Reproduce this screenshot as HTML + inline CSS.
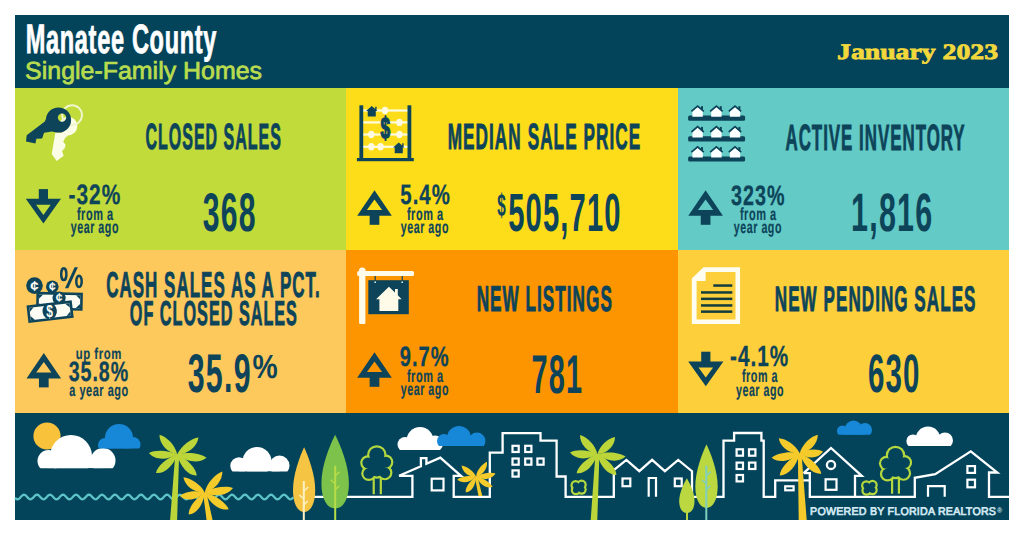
<!DOCTYPE html>
<html><head><meta charset="utf-8"><title>Manatee County Single-Family Homes January 2023</title>
<style>
html,body{margin:0;padding:0;background:#ffffff;}
body{width:1024px;height:536px;position:relative;overflow:hidden;font-family:"Liberation Sans",sans-serif;}
.t{position:absolute;left:0;top:0;white-space:pre;transform-origin:0 0;font-size:100px;line-height:100px;text-rendering:geometricPrecision;}
.bg{position:absolute;}
svg{position:absolute;left:0;top:0;}
</style></head><body>
<div class="bg" style="left:15px;top:15px;width:994px;height:505px;background:#03445b"></div>
<div class="bg" style="left:15px;top:88px;width:331px;height:162px;background:#c0db3a"></div>
<div class="bg" style="left:346px;top:88px;width:332px;height:162px;background:#fddd1a"></div>
<div class="bg" style="left:678px;top:88px;width:331px;height:162px;background:#63cac5"></div>
<div class="bg" style="left:15px;top:250px;width:331px;height:163px;background:#fdc95c"></div>
<div class="bg" style="left:346px;top:250px;width:332px;height:163px;background:#fd9500"></div>
<div class="bg" style="left:678px;top:250px;width:331px;height:163px;background:#fccf3b"></div>
<svg width="1024" height="536" viewBox="0 0 1024 536">
<path fill="#0d445a" fill-rule="evenodd" d="M43.4,223.6 L61.0,198.79999999999998 L25.799999999999997,198.79999999999998 Z M43.4,215.0 L50.699999999999996,204.79999999999998 L36.1,204.79999999999998 Z"/>
<rect fill="#0d445a" x="38.8" y="189.1" width="9.2" height="10.5"/>
<path fill="#0d445a" fill-rule="evenodd" d="M374.5,190.3 L391.8,215.8 L357.2,215.8 Z M374.5,199.5 L382.1,209.9 L366.9,209.9 Z"/>
<rect fill="#0d445a" x="369.65" y="214.3" width="9.7" height="10.5"/>
<path fill="#0d445a" fill-rule="evenodd" d="M705.6,190.3 L722.9,215.8 L688.3000000000001,215.8 Z M705.6,199.5 L713.2,209.9 L698.0,209.9 Z"/>
<rect fill="#0d445a" x="700.75" y="214.3" width="9.7" height="10.5"/>
<path fill="#0d445a" fill-rule="evenodd" d="M43.8,352.9 L61.099999999999994,378.4 L26.499999999999996,378.4 Z M43.8,362.09999999999997 L51.4,372.5 L36.199999999999996,372.5 Z"/>
<rect fill="#0d445a" x="38.949999999999996" y="376.9" width="9.7" height="10.5"/>
<path fill="#0d445a" fill-rule="evenodd" d="M374.5,352.3 L391.8,377.8 L357.2,377.8 Z M374.5,361.5 L382.1,371.90000000000003 L366.9,371.90000000000003 Z"/>
<rect fill="#0d445a" x="369.65" y="376.3" width="9.7" height="10.5"/>
<path fill="#0d445a" fill-rule="evenodd" d="M705.8,386.2 L723.4,361.4 L688.1999999999999,361.4 Z M705.8,377.59999999999997 L713.0999999999999,367.4 L698.5,367.4 Z"/>
<rect fill="#0d445a" x="701.1999999999999" y="351.7" width="9.2" height="10.5"/>
<circle fill="#fbfde6" cx="68.2" cy="126" r="9.2"/>
<path fill="#fbfde6" d="M55.4,132.5 L70.8,133.6 L65.3,137.7 L63.2,141.8 L65.7,145.1 L64.5,148.4 L62,150.9 L63.7,155.8 L56.7,161.1 L51.7,154.1 Z"/>
<circle cx="72.1" cy="115.1" r="9.9" fill="none" stroke="#f0f5cc" stroke-width="2"/>
<path fill="#0d445a" fill-rule="evenodd" d="M71.1,120 A12.6,12.6 0 1 0 45.9,120 A12.6,12.6 0 1 0 71.1,120 Z M66.2,117.6 A4.2,4.2 0 1 1 57.8,117.6 A4.2,4.2 0 1 1 66.2,117.6 Z"/>
<path fill="#0d445a" d="M47.5,115.5 L44.8,121.4 L26.7,135.2 L26,141.5 L35.4,143.5 L36.4,138.8 L42.1,138.5 L44.1,132.8 L52,131.5 L58,132 Z"/>
<rect fill="#fffbe0" x="362" y="109.4" width="47" height="2.2"/>
<rect fill="#fffbe0" x="362" y="121.30000000000001" width="47" height="2.2"/>
<rect fill="#fffbe0" x="362" y="133.4" width="47" height="2.2"/>
<rect fill="#fffbe0" x="362" y="145.70000000000002" width="47" height="2.2"/>
<rect fill="#0d445a" x="359.4" y="105.3" width="3.8" height="54"/>
<rect fill="#0d445a" x="407.5" y="105.3" width="3.8" height="54"/>
<rect fill="#0d445a" x="356.9" y="158" width="56.9" height="3.2"/>
<ellipse fill="#fffbe0" cx="385" cy="110.5" rx="3.2" ry="3.7"/>
<ellipse fill="#fffbe0" cx="399.4" cy="122.4" rx="3.2" ry="3.7"/>
<ellipse fill="#fffbe0" cx="371.3" cy="134.5" rx="3.2" ry="3.7"/>
<ellipse fill="#fffbe0" cx="399.4" cy="134.5" rx="3.2" ry="3.7"/>
<ellipse fill="#fffbe0" cx="371.3" cy="146.8" rx="3.2" ry="3.7"/>
<ellipse fill="#fffbe0" cx="380.6" cy="146.8" rx="3.2" ry="3.7"/>
<path fill="#0d445a" d="M366,111.04 L371.75,106 L375.2,108.94 L375.2,106.84 L376.58,106.84 L376.58,110.2 L377.5,111.04 L375.775,111.04 L375.775,116.5 L367.725,116.5 L367.725,111.04 Z"/>
<path fill="#0d445a" d="M393,147.584 L398.75,142.4 L402.2,145.424 L402.2,143.264 L403.58,143.264 L403.58,146.72 L404.5,147.584 L402.775,147.584 L402.775,153.20000000000002 L394.725,153.20000000000002 L394.725,147.584 Z"/>
<text x="380.6" y="137.9" font-family="Liberation Sans" font-weight="bold" font-size="29" fill="#0d445a" stroke="#0d445a" stroke-width="1.3" transform="translate(380.6,0) scale(0.6,1) translate(-380.6,0)">$</text>
<rect fill="#0d445a" x="688.1" y="115.5" width="57" height="5.2" rx="1.5"/>
<path fill="#fbffff" d="M692.4,111.1 L697.6,106.89999999999999 L702.8000000000001,111.1 L702.8000000000001,116.7 L692.4,116.7 Z"/>
<path fill="none" stroke="#0d445a" stroke-width="1.7" d="M691.4,111.3 L697.6,106.0 L703.8000000000001,111.3"/>
<rect fill="#0d445a" x="701.0" y="106.2" width="2" height="3.2"/>
<path fill="#fbffff" d="M711.1999999999999,111.1 L716.4,106.89999999999999 L721.6,111.1 L721.6,116.7 L711.1999999999999,116.7 Z"/>
<path fill="none" stroke="#0d445a" stroke-width="1.7" d="M710.1999999999999,111.3 L716.4,106.0 L722.6,111.3"/>
<rect fill="#0d445a" x="719.8" y="106.2" width="2" height="3.2"/>
<path fill="#fbffff" d="M729.8,111.1 L735.0,106.89999999999999 L740.2,111.1 L740.2,116.7 L729.8,116.7 Z"/>
<path fill="none" stroke="#0d445a" stroke-width="1.7" d="M728.8,111.3 L735.0,106.0 L741.2,111.3"/>
<rect fill="#0d445a" x="738.4" y="106.2" width="2" height="3.2"/>
<rect fill="#0d445a" x="688.1" y="136.2" width="57" height="5.2" rx="1.5"/>
<path fill="#fbffff" d="M692.4,131.79999999999998 L697.6,127.59999999999998 L702.8000000000001,131.79999999999998 L702.8000000000001,137.39999999999998 L692.4,137.39999999999998 Z"/>
<path fill="none" stroke="#0d445a" stroke-width="1.7" d="M691.4,132.0 L697.6,126.69999999999999 L703.8000000000001,132.0"/>
<rect fill="#0d445a" x="701.0" y="126.89999999999999" width="2" height="3.2"/>
<path fill="#fbffff" d="M711.1999999999999,131.79999999999998 L716.4,127.59999999999998 L721.6,131.79999999999998 L721.6,137.39999999999998 L711.1999999999999,137.39999999999998 Z"/>
<path fill="none" stroke="#0d445a" stroke-width="1.7" d="M710.1999999999999,132.0 L716.4,126.69999999999999 L722.6,132.0"/>
<rect fill="#0d445a" x="719.8" y="126.89999999999999" width="2" height="3.2"/>
<path fill="#fbffff" d="M729.8,131.79999999999998 L735.0,127.59999999999998 L740.2,131.79999999999998 L740.2,137.39999999999998 L729.8,137.39999999999998 Z"/>
<path fill="none" stroke="#0d445a" stroke-width="1.7" d="M728.8,132.0 L735.0,126.69999999999999 L741.2,132.0"/>
<rect fill="#0d445a" x="738.4" y="126.89999999999999" width="2" height="3.2"/>
<rect fill="#0d445a" x="688.1" y="156.4" width="57" height="5.2" rx="1.5"/>
<path fill="#fbffff" d="M692.4,152.00000000000003 L697.6,147.8 L702.8000000000001,152.00000000000003 L702.8000000000001,157.6 L692.4,157.6 Z"/>
<path fill="none" stroke="#0d445a" stroke-width="1.7" d="M691.4,152.20000000000002 L697.6,146.9 L703.8000000000001,152.20000000000002"/>
<rect fill="#0d445a" x="701.0" y="147.10000000000002" width="2" height="3.2"/>
<path fill="#fbffff" d="M711.1999999999999,152.00000000000003 L716.4,147.8 L721.6,152.00000000000003 L721.6,157.6 L711.1999999999999,157.6 Z"/>
<path fill="none" stroke="#0d445a" stroke-width="1.7" d="M710.1999999999999,152.20000000000002 L716.4,146.9 L722.6,152.20000000000002"/>
<rect fill="#0d445a" x="719.8" y="147.10000000000002" width="2" height="3.2"/>
<path fill="#fbffff" d="M729.8,152.00000000000003 L735.0,147.8 L740.2,152.00000000000003 L740.2,157.6 L729.8,157.6 Z"/>
<path fill="none" stroke="#0d445a" stroke-width="1.7" d="M728.8,152.20000000000002 L735.0,146.9 L741.2,152.20000000000002"/>
<rect fill="#0d445a" x="738.4" y="147.10000000000002" width="2" height="3.2"/>
<circle fill="#0d445a" cx="34.5" cy="285.6" r="8.3"/>
<text x="34.5" y="291.0" text-anchor="middle" font-family="Liberation Sans" font-weight="bold" font-size="15" fill="#fbfdf5">¢</text>
<circle fill="#0d445a" cx="52.3" cy="286.7" r="6.3"/>
<text x="52.3" y="291.02" text-anchor="middle" font-family="Liberation Sans" font-weight="bold" font-size="12" fill="#fbfdf5">¢</text>
<g transform="translate(59.5,301.3) rotate(1.2)"><rect fill="#0d445a" x="-23.25" y="-9.0" width="46.5" height="18"/><rect fill="#fbfdf5" x="-20.65" y="-6.4" width="41.3" height="12.8"/><path fill="#0d445a" d="M-20.65,-6.4 L-16.45,-6.4 L-20.65,-2.2 Z"/><path fill="#0d445a" d="M-20.65,6.4 L-16.45,6.4 L-20.65,2.2 Z"/><path fill="#0d445a" d="M20.65,-6.4 L16.45,-6.4 L20.65,-2.2 Z"/><path fill="#0d445a" d="M20.65,6.4 L16.45,6.4 L20.65,2.2 Z"/></g>
<circle fill="#0d445a" cx="59.1" cy="298.1" r="6.6"/>
<text x="59.1" y="302.42" text-anchor="middle" font-family="Liberation Sans" font-weight="bold" font-size="12" fill="#fbfdf5">¢</text>
<g transform="translate(50.1,311.7) rotate(-6.6)"><rect fill="#0d445a" x="-22.75" y="-8.8" width="45.5" height="17.6"/><rect fill="#fbfdf5" x="-20.15" y="-6.200000000000001" width="40.3" height="12.400000000000002"/><path fill="#0d445a" d="M-20.15,-6.200000000000001 L-15.95,-6.200000000000001 L-20.15,-2.000000000000001 Z"/><path fill="#0d445a" d="M-20.15,6.200000000000001 L-15.95,6.200000000000001 L-20.15,2.000000000000001 Z"/><path fill="#0d445a" d="M20.15,-6.200000000000001 L15.95,-6.200000000000001 L20.15,-2.000000000000001 Z"/><path fill="#0d445a" d="M20.15,6.200000000000001 L15.95,6.200000000000001 L20.15,2.000000000000001 Z"/></g>
<ellipse fill="#0d445a" cx="49.7" cy="311.2" rx="7.2" ry="8.2" transform="rotate(-6.6 49.7 311.2)"/>
<text x="49.7" y="316.6" text-anchor="middle" font-family="Liberation Sans" font-weight="bold" font-size="16" fill="#fbfdf5" transform="translate(49.7,0) scale(0.75,1) translate(-49.7,0)">$</text>
<ellipse fill="none" stroke="#0d445a" stroke-width="2.5" cx="63.8" cy="274.2" rx="2.6" ry="5.9"/>
<ellipse fill="none" stroke="#0d445a" stroke-width="2.5" cx="79" cy="281.4" rx="2.7" ry="5.7"/>
<path fill="#0d445a" d="M74.6,267.2 L77.9,267.2 L68.3,288.3 L65,288.3 Z"/>
<rect fill="#fffbe8" x="359.1" y="269" width="6.3" height="55" rx="1"/>
<rect fill="#fffbe8" x="357.2" y="271.1" width="56.8" height="5" rx="1.5"/>
<rect fill="#fffbe8" x="359.1" y="267.6" width="6.3" height="5" rx="3"/>
<rect fill="#0d445a" x="368.3" y="280.2" width="40.5" height="34"/>
<rect fill="#0d445a" x="374.59999999999997" y="276" width="1.2" height="5"/>
<circle fill="#cfe8f0" cx="375.2" cy="282.2" r="0.9"/>
<rect fill="#0d445a" x="401.59999999999997" y="276" width="1.2" height="5"/>
<circle fill="#cfe8f0" cx="402.2" cy="282.2" r="0.9"/>
<path fill="#fffbe8" d="M376.1,299.2 L388.9,286.8 L395,292.6 L395,289 L397.8,289 L397.8,295.3 L401.6,299.2 L398.3,299.2 L398.3,311 L379.4,311 L379.4,299.2 Z"/>
<path fill="#fffdf0" fill-rule="evenodd" d="M703.5,267.2 L740.1,267.2 L740.1,324 L691.8,324 L691.8,278.6 Z M705.4,272 L735.5,272 L735.5,319.4 L696.6,319.4 L696.6,281 L705.4,281 Z"/>
<path fill="#fffdf0" d="M696.6,281 L705.4,272 L705.4,281 Z"/>
<rect fill="#123d3f" x="713.3" y="284.3" width="19" height="2.5"/>
<rect fill="#123d3f" x="701" y="291.2" width="31.3" height="2.5"/>
<rect fill="#123d3f" x="701" y="297.6" width="31.3" height="2.5"/>
<rect fill="#123d3f" x="701" y="304.2" width="31.3" height="2.5"/>
<rect fill="#123d3f" x="701" y="310.4" width="31.3" height="2.5"/>
<circle fill="#f8c23b" cx="47" cy="436" r="13.6"/>
<path fill="none" stroke="#5dc3c6" stroke-width="2.3" d="M15.0,497.82 L15.8,498.57 L16.6,499.09 L17.4,499.30 L18.2,499.17 L19.0,498.72 L19.8,498.02 L20.6,497.17 L21.4,496.29 L22.2,495.52 L23.0,494.96 L23.8,494.71 L24.6,494.80 L25.4,495.21 L26.2,495.88 L27.0,496.72 L27.8,497.60 L28.6,498.40 L29.4,498.98 L30.2,499.28 L31.0,499.23 L31.8,498.86 L32.6,498.21 L33.4,497.39 L34.2,496.50 L35.0,495.69 L35.8,495.08 L36.6,494.74 L37.4,494.74 L38.2,495.08 L39.0,495.69 L39.8,496.50 L40.6,497.39 L41.4,498.21 L42.2,498.86 L43.0,499.23 L43.8,499.28 L44.6,498.98 L45.4,498.40 L46.2,497.60 L47.0,496.72 L47.8,495.88 L48.6,495.21 L49.4,494.80 L50.2,494.71 L51.0,494.96 L51.8,495.52 L52.6,496.29 L53.4,497.17 L54.2,498.02 L55.0,498.72 L55.8,499.17 L56.6,499.30 L57.4,499.09 L58.2,498.57 L59.0,497.82 L59.8,496.94 L60.6,496.08 L61.4,495.35 L62.2,494.87 L63.0,494.70 L63.8,494.87 L64.6,495.35 L65.4,496.08 L66.2,496.94 L67.0,497.82 L67.8,498.57 L68.6,499.09 L69.4,499.30 L70.2,499.17 L71.0,498.72 L71.8,498.02 L72.6,497.17 L73.4,496.29 L74.2,495.52 L75.0,494.96 L75.8,494.71 L76.6,494.80 L77.4,495.21 L78.2,495.88 L79.0,496.72 L79.8,497.60 L80.6,498.40 L81.4,498.98 L82.2,499.28 L83.0,499.23 L83.8,498.86 L84.6,498.21 L85.4,497.39 L86.2,496.50 L87.0,495.69 L87.8,495.08 L88.6,494.74 L89.4,494.74 L90.2,495.08 L91.0,495.69 L91.8,496.50 L92.6,497.39 L93.4,498.21 L94.2,498.86 L95.0,499.23 L95.8,499.28 L96.6,498.98 L97.4,498.40 L98.2,497.60 L99.0,496.72 L99.8,495.88 L100.6,495.21 L101.4,494.80 L102.2,494.71 L103.0,494.96 L103.8,495.52 L104.6,496.29 L105.4,497.17 L106.2,498.02 L107.0,498.72 L107.8,499.17 L108.6,499.30 L109.4,499.09 L110.2,498.57 L111.0,497.82 L111.8,496.94 L112.6,496.08 L113.4,495.35 L114.2,494.87 L115.0,494.70 L115.8,494.87 L116.6,495.35 L117.4,496.08 L118.2,496.94 L119.0,497.82 L119.8,498.57 L120.6,499.09 L121.4,499.30 L122.2,499.17 L123.0,498.72 L123.8,498.02 L124.6,497.17 L125.4,496.29 L126.2,495.52 L127.0,494.96 L127.8,494.71 L128.6,494.80 L129.4,495.21 L130.2,495.88 L131.0,496.72 L131.8,497.60 L132.6,498.40 L133.4,498.98 L134.2,499.28 L135.0,499.23 L135.8,498.86 L136.6,498.21 L137.4,497.39 L138.2,496.50 L139.0,495.69 L139.8,495.08 L140.6,494.74 L141.4,494.74 L142.2,495.08 L143.0,495.69 L143.8,496.50 L144.6,497.39 L145.4,498.21 L146.2,498.86 L147.0,499.23 L147.8,499.28 L148.6,498.98 L149.4,498.40 L150.2,497.60 L151.0,496.72 L151.8,495.88 L152.6,495.21 L153.4,494.80 L154.2,494.71 L155.0,494.96 L155.8,495.52 L156.6,496.29 L157.4,497.17 L158.2,498.02 L159.0,498.72 L159.8,499.17 L160.6,499.30 L161.4,499.09 L162.2,498.57 L163.0,497.82 L163.8,496.94 L164.6,496.08 L165.4,495.35 L166.2,494.87 L167.0,494.70 L167.8,494.87 L168.6,495.35 L169.4,496.08 L170.2,496.94 L171.0,497.82 L171.8,498.57 L172.6,499.09 L173.4,499.30 L174.2,499.17 L175.0,498.72 L175.8,498.02 L176.6,497.17 L177.4,496.29 L178.2,495.52 L179.0,494.96 L179.8,494.71 L180.6,494.80 L181.4,495.21 L182.2,495.88 L183.0,496.72 L183.8,497.60 L184.6,498.40 L185.4,498.98 L186.2,499.28 L187.0,499.23 L187.8,498.86 L188.6,498.21 L189.4,497.39 L190.2,496.50 L191.0,495.69 L191.8,495.08 L192.6,494.74 L193.4,494.74 L194.2,495.08 L195.0,495.69 L195.8,496.50 L196.6,497.39 L197.4,498.21 L198.2,498.86 L199.0,499.23 L199.8,499.28 L200.6,498.98 L201.4,498.40 L202.2,497.60 L203.0,496.72 L203.8,495.88 L204.6,495.21 L205.4,494.80 L206.2,494.71 L207.0,494.96 L207.8,495.52 L208.6,496.29 L209.4,497.17 L210.2,498.02 L211.0,498.72 L211.8,499.17 L212.6,499.30 L213.4,499.09 L214.2,498.57 L215.0,497.82 L215.8,496.94 L216.6,496.08 L217.4,495.35 L218.2,494.87 L219.0,494.70 L219.8,494.87 L220.6,495.35 L221.4,496.08 L222.2,496.94 L223.0,497.82 L223.8,498.57 L224.6,499.09 L225.4,499.30 L226.2,499.17 L227.0,498.72 L227.8,498.02 L228.6,497.17 L229.4,496.29 L230.2,495.52 L231.0,494.96 L231.8,494.71 L232.6,494.80 L233.4,495.21 L234.2,495.88 L235.0,496.72 L235.8,497.60 L236.6,498.40 L237.4,498.98 L238.2,499.28 L239.0,499.23 L239.8,498.86 L240.6,498.21 L241.4,497.39 L242.2,496.50 L243.0,495.69 L243.8,495.08 L244.6,494.74 L245.4,494.74 L246.2,495.08 L247.0,495.69 L247.8,496.50 L248.6,497.39 L249.4,498.21 L250.2,498.86 L251.0,499.23 L251.8,499.28 L252.6,498.98 L253.4,498.40 L254.2,497.60 L255.0,496.72 L255.8,495.88 L256.6,495.21 L257.4,494.80 L258.2,494.71 L259.0,494.96 L259.8,495.52 L260.6,496.29 L261.4,497.17 L262.2,498.02 L263.0,498.72 L263.8,499.17 L264.6,499.30 L265.4,499.09 L266.2,498.57 L267.0,497.82 L267.8,496.94 L268.6,496.08 L269.4,495.35 L270.2,494.87 L271.0,494.70 L271.8,494.87 L272.6,495.35 L273.4,496.08 L274.2,496.94 L275.0,497.82 L275.8,498.57 L276.6,499.09 L277.4,499.30 L278.2,499.17 L279.0,498.72 L279.8,498.02 L280.6,497.17 L281.4,496.29 L282.2,495.52 L283.0,494.96 L283.8,494.71 L284.6,494.80 L285.4,495.21 L286.2,495.88 L287.0,496.72 L287.8,497.60 L288.6,498.40 L289.4,498.98 L290.2,499.28 L291.0,499.23 L291.8,498.86 L292.6,498.21 L293.4,497.39"/>
<clipPath id="cl1"><rect x="0" y="0" width="1024" height="468.3"/></clipPath>
<g clip-path="url(#cl1)" fill="#ffffff"><circle cx="48.5" cy="461" r="11"/><circle cx="71" cy="456" r="21"/><circle cx="103" cy="460.5" r="12.5"/><rect x="48.5" y="456" width="54.5" height="12.300000000000011"/></g>
<clipPath id="cl2"><rect x="0" y="0" width="1024" height="448.6"/></clipPath>
<g clip-path="url(#cl2)" fill="#1787d8"><circle cx="105" cy="445" r="7"/><circle cx="119" cy="438" r="14"/><circle cx="133" cy="444.5" r="7.5"/><rect x="105" y="438" width="28" height="10.600000000000023"/></g>
<clipPath id="cl3"><rect x="0" y="0" width="1024" height="471.5"/></clipPath>
<g clip-path="url(#cl3)" fill="#ffffff"><circle cx="239" cy="466" r="8.7"/><circle cx="257" cy="461.5" r="14.5"/><circle cx="279.5" cy="465.5" r="10"/><rect x="239" y="461" width="40.5" height="10.5"/></g>
<clipPath id="cl4"><rect x="0" y="0" width="1024" height="450"/></clipPath>
<g clip-path="url(#cl4)" fill="#ffffff"><circle cx="405" cy="444.5" r="7.5"/><circle cx="420" cy="440.5" r="13.5"/><circle cx="435" cy="443.5" r="8"/><rect x="405" y="440" width="30" height="10"/></g>
<clipPath id="cl5"><rect x="0" y="0" width="1024" height="446"/></clipPath>
<g clip-path="url(#cl5)" fill="#1787d8"><circle cx="444" cy="441" r="7"/><circle cx="459" cy="438" r="12"/><circle cx="477" cy="441" r="8.4"/><rect x="444" y="438" width="33" height="8"/></g>
<clipPath id="cl6"><rect x="0" y="0" width="1024" height="434.7"/></clipPath>
<g clip-path="url(#cl6)" fill="#1787d8"><circle cx="842.5" cy="431" r="5.5"/><circle cx="853.5" cy="429.5" r="9"/><circle cx="865" cy="430" r="7"/><rect x="842.5" y="429" width="22.5" height="5.699999999999989"/></g>
<clipPath id="cl7"><rect x="0" y="0" width="1024" height="446"/></clipPath>
<g clip-path="url(#cl7)" fill="#ffffff"><circle cx="913" cy="441" r="6.6"/><circle cx="928" cy="439" r="12.4"/><circle cx="945" cy="440.5" r="8"/><rect x="913" y="439" width="32" height="7"/></g>
<path fill="none" stroke="#ffffff" stroke-width="2.3" stroke-linejoin="miter" d="M300,496.8 L412.4,496.8 L412.4,475.8 L399.1,475.8 L420.9,466.2 L420.9,458.2 L426.4,458.2 L426.4,463.8 L440.3,457.6 L461,475.8 L453.7,475.8 L453.7,496.8 L489.8,496.8 L489.8,452.6 L502.6,452.6 L502.6,433.2 L540.5,433.2 L540.5,440.7 L556.6,440.7 L556.6,476.5 L565.6,476.5 L565.6,496.8 L613.8,496.8 L613.8,470 L626.4,459.9 L639.3,471.2 L652.1,459.9 L664.9,471.2 L678.2,459.9 L692,471.2 L692,496.8 L723.5,496.8 L723.5,440.6 L734.1,440.6 L734.1,433 L761.4,433 L761.4,440.6 L763.7,440.6 L763.7,496.8 L775.2,496.8 L775.2,480.3 L809.8,480.3 "/>
<path fill="none" stroke="#ffffff" stroke-width="2.3" d="M803.6,473.2 L809.8,473.2 L809.8,496.8 L855,496.8 L855,475.8 L861.8,475.8 L831,448 L803.6,473.2"/>
<path fill="none" stroke="#ffffff" stroke-width="2.3" d="M855,496.8 L914.8,496.8 L914.8,477.8 L935.2,474.1 L970.8,451.4 L997.3,472.5 L989,472.5 L989,496.8 L1009,496.8"/>
<rect fill="none" stroke="#ffffff" stroke-width="2.2" x="431.70000000000005" y="478.70000000000005" width="11.8" height="11.699999999999978"/>
<rect fill="none" stroke="#ffffff" stroke-width="2.2" x="512.5" y="445.8" width="6.200000000000034" height="6.199999999999977"/>
<rect fill="none" stroke="#ffffff" stroke-width="2.2" x="525.1999999999999" y="445.8" width="6.200000000000091" height="6.199999999999977"/>
<rect fill="none" stroke="#ffffff" stroke-width="2.2" x="512.5" y="458.50000000000006" width="6.200000000000034" height="6.199999999999977"/>
<rect fill="none" stroke="#ffffff" stroke-width="2.2" x="525.1999999999999" y="458.50000000000006" width="6.200000000000091" height="6.199999999999977"/>
<rect fill="none" stroke="#ffffff" stroke-width="2.2" x="537.4" y="458.50000000000006" width="6.200000000000091" height="6.199999999999977"/>
<rect fill="none" stroke="#ffffff" stroke-width="2.2" x="512.5" y="470.40000000000003" width="6.200000000000034" height="6.199999999999977"/>
<rect fill="none" stroke="#ffffff" stroke-width="2.2" x="622.5" y="478.5" width="7.8" height="7.700000000000034"/>
<rect fill="none" stroke="#ffffff" stroke-width="2.2" x="674.8000000000001" y="478.5" width="6.899999999999909" height="7.700000000000034"/>
<path fill="none" stroke="#ffffff" stroke-width="2.2" d="M648.7,496.8 L648.7,478 L656,478 L656,496.8"/>
<rect fill="none" stroke="#ffffff" stroke-width="2.2" x="736.6" y="449.3" width="6.399999999999909" height="6.400000000000023"/>
<rect fill="none" stroke="#ffffff" stroke-width="2.2" x="749.0000000000001" y="449.3" width="6.399999999999909" height="6.400000000000023"/>
<rect fill="none" stroke="#ffffff" stroke-width="2.2" x="736.6" y="462.6" width="6.399999999999909" height="6.400000000000023"/>
<rect fill="none" stroke="#ffffff" stroke-width="2.2" x="749.0000000000001" y="462.6" width="6.399999999999909" height="6.400000000000023"/>
<rect fill="none" stroke="#ffffff" stroke-width="2.2" x="736.6" y="475.0" width="6.399999999999909" height="6.400000000000023"/>
<rect fill="none" stroke="#ffffff" stroke-width="2.2" x="785.2" y="486.3" width="8.400000000000023" height="3.9999999999999885"/>
<circle fill="none" stroke="#ffffff" stroke-width="2.3" cx="831" cy="464.9" r="4.1"/>
<rect fill="none" stroke="#ffffff" stroke-width="2.2" x="825.6" y="479.3" width="10.900000000000023" height="10.49999999999999"/>
<path fill="none" stroke="#ffffff" stroke-width="2.2" d="M928,496.8 L928,486.2 L944.7,486.2 L944.7,496.8"/>
<rect fill="none" stroke="#ffffff" stroke-width="2.2" x="967.4" y="466.1" width="7.600000000000068" height="6.8"/>
<rect fill="none" stroke="#ffffff" stroke-width="2.2" x="967.4" y="479.70000000000005" width="7.600000000000068" height="7.599999999999954"/>
<rect fill="#b5d83f" x="372.59999999999997" y="477" width="2.2" height="17.19999999999999"/><rect fill="#b5d83f" x="379.7" y="477" width="2.2" height="17.19999999999999"/>
<circle fill="#b5d83f" cx="376.8" cy="454.98" r="9.780000000000001"/><circle fill="#b5d83f" cx="367.81" cy="462.815" r="7.609999999999999"/><circle fill="#b5d83f" cx="385.79" cy="462.081" r="7.609999999999999"/><circle fill="#b5d83f" cx="368.81" cy="473.458" r="7.609999999999999"/><circle fill="#b5d83f" cx="384.79" cy="472.724" r="7.609999999999999"/><circle fill="#b5d83f" cx="376.8" cy="468.32" r="10.399999999999999"/><circle fill="#03445b" cx="376.8" cy="454.98" r="7.580000000000002"/><circle fill="#03445b" cx="367.81" cy="462.815" r="5.41"/><circle fill="#03445b" cx="385.79" cy="462.081" r="5.41"/><circle fill="#03445b" cx="368.81" cy="473.458" r="5.41"/><circle fill="#03445b" cx="384.79" cy="472.724" r="5.41"/><circle fill="#03445b" cx="376.8" cy="468.32" r="8.2"/>
<rect fill="#b5d83f" x="891.0" y="477.5" width="2.2" height="16.19999999999999"/><rect fill="#b5d83f" x="897.8" y="477.5" width="2.2" height="16.19999999999999"/>
<circle fill="#b5d83f" cx="895.5" cy="455.48" r="9.780000000000001"/><circle fill="#b5d83f" cx="886.51" cy="463.315" r="7.609999999999999"/><circle fill="#b5d83f" cx="904.49" cy="462.581" r="7.609999999999999"/><circle fill="#b5d83f" cx="887.51" cy="473.958" r="7.609999999999999"/><circle fill="#b5d83f" cx="903.49" cy="473.224" r="7.609999999999999"/><circle fill="#b5d83f" cx="895.5" cy="468.82" r="10.399999999999999"/><circle fill="#03445b" cx="895.5" cy="455.48" r="7.580000000000002"/><circle fill="#03445b" cx="886.51" cy="463.315" r="5.41"/><circle fill="#03445b" cx="904.49" cy="462.581" r="5.41"/><circle fill="#03445b" cx="887.51" cy="473.958" r="5.41"/><circle fill="#03445b" cx="903.49" cy="473.224" r="5.41"/><circle fill="#03445b" cx="895.5" cy="468.82" r="8.2"/>
<circle fill="#b5d83f" cx="575.6" cy="485.2" r="5.15"/><circle fill="#b5d83f" cx="581.6" cy="484.75" r="5.15"/><circle fill="#b5d83f" cx="575.9" cy="490.0" r="5.15"/><circle fill="#b5d83f" cx="581.6" cy="489.55" r="5.15"/><circle fill="#b5d83f" cx="578.6" cy="487.3" r="6.050000000000001"/><circle fill="#03445b" cx="575.6" cy="485.2" r="2.9500000000000006"/><circle fill="#03445b" cx="581.6" cy="484.75" r="2.9500000000000006"/><circle fill="#03445b" cx="575.9" cy="490.0" r="2.9500000000000006"/><circle fill="#03445b" cx="581.6" cy="489.55" r="2.9500000000000006"/><circle fill="#03445b" cx="578.6" cy="487.3" r="3.85"/>
<circle fill="#b5d83f" cx="866.3199999999999" cy="485.544" r="5.258000000000001"/><circle fill="#b5d83f" cx="872.48" cy="485.082" r="5.258000000000001"/><circle fill="#b5d83f" cx="866.6279999999999" cy="490.472" r="5.258000000000001"/><circle fill="#b5d83f" cx="872.48" cy="490.01" r="5.258000000000001"/><circle fill="#b5d83f" cx="869.4" cy="487.7" r="6.182"/><circle fill="#03445b" cx="866.3199999999999" cy="485.544" r="3.0580000000000003"/><circle fill="#03445b" cx="872.48" cy="485.082" r="3.0580000000000003"/><circle fill="#03445b" cx="866.6279999999999" cy="490.472" r="3.0580000000000003"/><circle fill="#03445b" cx="872.48" cy="490.01" r="3.0580000000000003"/><circle fill="#03445b" cx="869.4" cy="487.7" r="3.9820000000000007"/>
<path fill="#f6c443" d="M304.1,447.2 C308.54,456.905 315.20000000000005,474.37399999999997 315.20000000000005,489.902 C315.20000000000005,504.13599999999997 310.31600000000003,511.9 304.1,511.9 C297.884,511.9 293.0,504.13599999999997 293.0,489.902 C293.0,474.37399999999997 299.66,456.905 304.1,447.2 Z"/>
<rect fill="#fdf1c4" x="302.8" y="481" width="2" height="39"/><path fill="none" stroke="#fdf1c4" stroke-width="1.5" d="M303.8,491 L308.3,487"/><path fill="none" stroke="#fdf1c4" stroke-width="1.5" d="M303.8,499 L299.3,495"/><path fill="none" stroke="#fdf1c4" stroke-width="1.5" d="M303.8,505 L307.8,501"/>
<path fill="#7cc24b" d="M335.15,434.8 C340.65,445.84000000000003 348.9,465.712 348.9,483.376 C348.9,499.568 342.84999999999997,508.4 335.15,508.4 C327.45,508.4 321.4,499.568 321.4,483.376 C321.4,465.712 329.65,445.84000000000003 335.15,434.8 Z"/>
<rect fill="#b7dc48" x="334.2" y="465.8" width="2" height="54.19999999999999"/><path fill="none" stroke="#b7dc48" stroke-width="1.5" d="M335.2,475.8 L339.7,471.8"/><path fill="none" stroke="#b7dc48" stroke-width="1.5" d="M335.2,483.8 L330.7,479.8"/><path fill="none" stroke="#b7dc48" stroke-width="1.5" d="M335.2,489.8 L339.2,485.8"/>
<path fill="#bcd841" d="M686.85,478.2 C689.91,483.42 694.5,492.816 694.5,501.168 C694.5,508.824 691.134,513 686.85,513 C682.566,513 679.2,508.824 679.2,501.168 C679.2,492.816 683.7900000000001,483.42 686.85,478.2 Z"/>
<rect fill="#bcd841" x="686" y="512" width="2" height="8"/>
<path fill="#bcd841" d="M706.5,444.2 C710.98,453.77 717.7,470.996 717.7,486.308 C717.7,500.344 712.772,508 706.5,508 C700.228,508 695.3,500.344 695.3,486.308 C695.3,470.996 702.02,453.77 706.5,444.2 Z"/>
<rect fill="#7fcfc0" x="705.3" y="465.7" width="2" height="54.30000000000001"/><path fill="none" stroke="#7fcfc0" stroke-width="1.5" d="M706.3,475.7 L710.8,471.7"/><path fill="none" stroke="#7fcfc0" stroke-width="1.5" d="M706.3,483.7 L701.8,479.7"/><path fill="none" stroke="#7fcfc0" stroke-width="1.5" d="M706.3,489.7 L710.3,485.7"/>
<path fill="#bcd63a" d="M175.25,454.3 L179.14999999999998,454.3 L177.1,520 L170.1,520 Z"/>
<path fill="#bcd63a" d="M177.2,454.3 C175.2,445.2 166.8,436.8 159.5,434.8 C159.3,443.6 166.9,452.7 177.2,454.3 Z"/>
<path fill="#bcd63a" d="M177.2,454.3 C188.1,454.3 197.4,446.2 198.5,437.4 C191.1,438.3 181.2,445.5 177.2,454.3 Z"/>
<path fill="#bcd63a" d="M177.2,454.3 C167.6,449.8 154.8,449.7 148.9,453.0 C154.3,459.8 167.0,460.9 177.2,454.3 Z"/>
<path fill="#bcd63a" d="M177.2,454.3 C186.8,462.6 200.0,463.6 206.5,457.8 C201.2,453.6 188.1,451.5 177.2,454.3 Z"/>
<path fill="#bcd63a" d="M177.2,454.3 C166.1,458.1 156.9,466.9 156.0,472.9 C163.6,474.5 173.5,466.5 177.2,454.3 Z"/>
<path fill="#bcd63a" d="M177.2,454.3 C179.9,467.0 189.1,476.2 196.7,475.5 C196.5,469.3 188.1,459.4 177.2,454.3 Z"/>
<path fill="#f5cb2b" d="M203.0,492.4 L206.39999999999998,492.4 L212.6,520 L206.6,520 Z"/>
<path fill="#f5cb2b" d="M204.7,492.4 C200.4,484.2 190.5,477.9 183.4,477.3 C184.8,485.8 194.1,493.0 204.7,492.4 Z"/>
<path fill="#f5cb2b" d="M204.7,492.4 C215.0,490.1 222.6,480.3 222.4,471.5 C215.2,474.0 206.8,483.1 204.7,492.4 Z"/>
<path fill="#f5cb2b" d="M204.7,492.4 C195.3,489.8 184.2,491.9 179.9,495.9 C185.5,501.5 196.8,500.5 204.7,492.4 Z"/>
<path fill="#f5cb2b" d="M204.7,492.4 C215.4,497.7 228.1,495.2 233.0,488.0 C226.6,485.6 213.8,487.0 204.7,492.4 Z"/>
<path fill="#f5cb2b" d="M204.7,492.4 C194.8,498.5 188.0,508.7 188.8,514.5 C195.9,514.4 203.5,504.8 204.7,492.4 Z"/>
<path fill="#f5cb2b" d="M204.7,492.4 C210.0,504.2 221.1,511.3 228.7,509.2 C226.7,503.4 216.2,495.4 204.7,492.4 Z"/>
<path fill="#f5cb2b" d="M474.70000000000005,476.4 L477.5,476.4 L482.29999999999995,496 L478.5,496 Z"/>
<path fill="#f5cb2b" d="M476.1,476.4 C473.4,470.9 466.7,466.3 461.6,465.5 C462.3,472.1 468.6,477.3 476.1,476.4 Z"/>
<path fill="#f5cb2b" d="M476.1,476.4 C483.1,475.2 487.7,468.4 487.0,461.8 C481.9,464.1 476.7,470.4 476.1,476.4 Z"/>
<path fill="#f5cb2b" d="M476.1,476.4 C483.5,480.8 492.2,479.1 495.5,473.4 C491.1,471.9 482.3,472.9 476.1,476.4 Z"/>
<path fill="#f5cb2b" d="M476.1,476.4 C479.7,484.9 487.3,489.2 492.5,486.7 C491.1,483.1 484.0,478.1 476.1,476.4 Z"/>
<path fill="#f5cb2b" d="M476.1,476.4 C469.1,481.2 464.8,488.6 465.8,492.2 C470.9,492.5 475.8,485.6 476.1,476.4 Z"/>
<path fill="#f5cb2b" d="M476.1,476.4 C468.9,475.0 460.5,476.7 457.3,479.4 C461.6,483.9 470.2,482.9 476.1,476.4 Z"/>
<path fill="#bcd63a" d="M595.4,454.1 L599.4,454.1 L597.3,520 L590.7,520 Z"/>
<path fill="#bcd63a" d="M597.4,454.1 C595.4,445.1 587.2,436.9 580.0,435.0 C579.8,443.7 587.2,452.7 597.4,454.1 Z"/>
<path fill="#bcd63a" d="M597.4,454.1 C607.5,453.6 615.0,445.5 615.0,437.0 C608.0,438.3 599.7,445.6 597.4,454.1 Z"/>
<path fill="#bcd63a" d="M597.4,454.1 C588.1,449.4 575.8,449.3 570.0,452.5 C575.2,459.4 587.5,460.6 597.4,454.1 Z"/>
<path fill="#bcd63a" d="M597.4,454.1 C606.8,462.1 619.5,462.6 625.6,456.6 C620.4,452.6 607.8,450.9 597.4,454.1 Z"/>
<path fill="#bcd63a" d="M597.4,454.1 C586.3,458.2 577.4,467.2 576.6,473.2 C584.2,474.6 593.9,466.4 597.4,454.1 Z"/>
<path fill="#bcd63a" d="M597.4,454.1 C599.9,466.7 608.9,475.6 616.4,474.9 C616.3,468.8 608.2,459.1 597.4,454.1 Z"/>
<path fill="#f5cb2b" d="M797.9000000000001,453.3 L801.5,453.3 L806.7,520 L798.7,520 Z"/>
<path fill="#f5cb2b" d="M799.7,453.3 C795.7,445.0 785.9,438.7 778.8,438.3 C780.0,446.9 789.1,454.1 799.7,453.3 Z"/>
<path fill="#f5cb2b" d="M799.7,453.3 C810.0,452.2 817.8,443.4 817.8,434.7 C810.6,436.4 802.0,444.4 799.7,453.3 Z"/>
<path fill="#f5cb2b" d="M799.7,453.3 C789.0,450.8 776.5,453.4 771.7,457.8 C778.1,463.4 790.8,461.9 799.7,453.3 Z"/>
<path fill="#f5cb2b" d="M799.7,453.3 C808.3,459.8 818.7,458.5 823.0,451.6 C818.0,448.4 807.4,448.6 799.7,453.3 Z"/>
<path fill="#f5cb2b" d="M799.7,453.3 C788.5,458.8 780.0,469.2 779.7,475.5 C787.4,475.9 796.9,466.3 799.7,453.3 Z"/>
<path fill="#f5cb2b" d="M799.7,453.3 C803.4,466.0 813.5,474.8 821.3,473.7 C820.4,467.5 811.1,457.9 799.7,453.3 Z"/>
<text x="997" y="512.5" font-family="Liberation Sans" font-weight="bold" font-size="7" fill="#d3eaf3">®</text>
</svg>
<div class="t" style="font-family:'Liberation Sans';font-weight:bold;color:#ffffff;letter-spacing:3.00px;-webkit-text-stroke:2.00px #ffffff;transform:matrix(0.23489,0,0,0.40982,25.752,18.285)">Manatee County</div>
<div class="t" style="font-family:'Liberation Sans';font-weight:normal;color:#b9dc4e;letter-spacing:0.00px;-webkit-text-stroke:3.00px #b9dc4e;transform:matrix(0.24936,0,0,0.24694,25.100,58.459)">Single-Family Homes</div>
<div class="t" style="font-family:'Liberation Serif';font-weight:bold;color:#f3d83c;letter-spacing:0.00px;-webkit-text-stroke:3.50px #f3d83c;transform:matrix(0.27719,0,0,0.21937,837.045,40.688)">January 2023</div>
<div class="t" style="font-family:'Liberation Sans';font-weight:bold;color:#0d445a;letter-spacing:6.00px;-webkit-text-stroke:2.50px #0d445a;transform:matrix(0.16031,0,0,0.36393,145.578,118.748)">CLOSED SALES</div>
<div class="t" style="font-family:'Liberation Sans';font-weight:bold;color:#0d445a;letter-spacing:6.00px;-webkit-text-stroke:2.50px #0d445a;transform:matrix(0.17224,0,0,0.36408,447.674,118.122)">MEDIAN SALE PRICE</div>
<div class="t" style="font-family:'Liberation Sans';font-weight:bold;color:#0d445a;letter-spacing:6.00px;-webkit-text-stroke:2.50px #0d445a;transform:matrix(0.16858,0,0,0.36404,785.487,119.026)">ACTIVE INVENTORY</div>
<div class="t" style="font-family:'Liberation Sans';font-weight:bold;color:#0d445a;letter-spacing:4.00px;transform:matrix(0.30189,0,0,0.54554,202.865,184.718)">368</div>
<div class="t" style="font-family:'Liberation Sans';font-weight:bold;color:#0d445a;letter-spacing:4.00px;transform:matrix(0.15325,0,0,0.31758,497.259,188.946)">$</div>
<div class="t" style="font-family:'Liberation Sans';font-weight:bold;color:#0d445a;letter-spacing:4.00px;transform:matrix(0.29154,0,0,0.53819,508.172,185.855)">505,710</div>
<div class="t" style="font-family:'Liberation Sans';font-weight:bold;color:#0d445a;letter-spacing:4.00px;transform:matrix(0.30458,0,0,0.54020,851.111,185.177)">1,816</div>
<div class="t" style="font-family:'Liberation Sans';font-weight:bold;color:#0d445a;letter-spacing:5.00px;-webkit-text-stroke:1.00px #0d445a;transform:matrix(0.20874,0,0,0.27959,68.429,180.611)">-32%</div>
<div class="t" style="font-family:'Liberation Sans';font-weight:bold;color:#0d445a;letter-spacing:5.00px;-webkit-text-stroke:1.00px #0d445a;transform:matrix(0.10934,0,0,0.17642,76.918,205.084)">from a</div>
<div class="t" style="font-family:'Liberation Sans';font-weight:bold;color:#0d445a;letter-spacing:5.00px;-webkit-text-stroke:1.00px #0d445a;transform:matrix(0.10670,0,0,0.17661,70.784,218.055)">year ago</div>
<div class="t" style="font-family:'Liberation Sans';font-weight:bold;color:#0d445a;letter-spacing:5.00px;-webkit-text-stroke:1.00px #0d445a;transform:matrix(0.20406,0,0,0.27989,400.256,180.455)">5.4%</div>
<div class="t" style="font-family:'Liberation Sans';font-weight:bold;color:#0d445a;letter-spacing:5.00px;-webkit-text-stroke:1.00px #0d445a;transform:matrix(0.10934,0,0,0.17642,406.918,205.084)">from a</div>
<div class="t" style="font-family:'Liberation Sans';font-weight:bold;color:#0d445a;letter-spacing:5.00px;-webkit-text-stroke:1.00px #0d445a;transform:matrix(0.10670,0,0,0.17661,400.784,218.055)">year ago</div>
<div class="t" style="font-family:'Liberation Sans';font-weight:bold;color:#0d445a;letter-spacing:5.00px;-webkit-text-stroke:1.00px #0d445a;transform:matrix(0.19679,0,0,0.28009,731.096,181.236)">323%</div>
<div class="t" style="font-family:'Liberation Sans';font-weight:bold;color:#0d445a;letter-spacing:5.00px;-webkit-text-stroke:1.00px #0d445a;transform:matrix(0.10950,0,0,0.17642,739.918,205.084)">from a</div>
<div class="t" style="font-family:'Liberation Sans';font-weight:bold;color:#0d445a;letter-spacing:5.00px;-webkit-text-stroke:1.00px #0d445a;transform:matrix(0.10675,0,0,0.17270,733.777,218.392)">year ago</div>
<div class="t" style="font-family:'Liberation Sans';font-weight:bold;color:#0d445a;letter-spacing:6.00px;-webkit-text-stroke:2.50px #0d445a;transform:matrix(0.16974,0,0,0.35988,106.190,266.381)">CASH SALES AS A PCT.</div>
<div class="t" style="font-family:'Liberation Sans';font-weight:bold;color:#0d445a;letter-spacing:6.00px;-webkit-text-stroke:2.50px #0d445a;transform:matrix(0.16243,0,0,0.34574,129.873,296.214)">OF CLOSED SALES</div>
<div class="t" style="font-family:'Liberation Sans';font-weight:bold;color:#0d445a;letter-spacing:6.00px;-webkit-text-stroke:2.50px #0d445a;transform:matrix(0.17147,0,0,0.35988,476.671,280.886)">NEW LISTINGS</div>
<div class="t" style="font-family:'Liberation Sans';font-weight:bold;color:#0d445a;letter-spacing:6.00px;-webkit-text-stroke:2.50px #0d445a;transform:matrix(0.17095,0,0,0.35402,774.793,280.784)">NEW PENDING SALES</div>
<div class="t" style="font-family:'Liberation Sans';font-weight:bold;color:#0d445a;letter-spacing:4.00px;transform:matrix(0.30413,0,0,0.54554,187.711,346.318)">35.9</div>
<div class="t" style="font-family:'Liberation Sans';font-weight:bold;color:#0d445a;letter-spacing:4.00px;transform:matrix(0.28278,0,0,0.33483,252.524,349.702)">%</div>
<div class="t" style="font-family:'Liberation Sans';font-weight:bold;color:#0d445a;letter-spacing:4.00px;transform:matrix(0.28916,0,0,0.54565,531.535,347.213)">781</div>
<div class="t" style="font-family:'Liberation Sans';font-weight:bold;color:#0d445a;letter-spacing:4.00px;transform:matrix(0.29508,0,0,0.54076,867.900,347.029)">630</div>
<div class="t" style="font-family:'Liberation Sans';font-weight:bold;color:#0d445a;letter-spacing:5.00px;-webkit-text-stroke:1.00px #0d445a;transform:matrix(0.11331,0,0,0.15705,75.679,345.549)">up from</div>
<div class="t" style="font-family:'Liberation Sans';font-weight:bold;color:#0d445a;letter-spacing:5.00px;-webkit-text-stroke:1.00px #0d445a;transform:matrix(0.19608,0,0,0.27832,68.643,358.021)">35.8%</div>
<div class="t" style="font-family:'Liberation Sans';font-weight:bold;color:#0d445a;letter-spacing:5.00px;-webkit-text-stroke:1.00px #0d445a;transform:matrix(0.10889,0,0,0.17099,69.352,381.165)">a year ago</div>
<div class="t" style="font-family:'Liberation Sans';font-weight:bold;color:#0d445a;letter-spacing:5.00px;-webkit-text-stroke:1.00px #0d445a;transform:matrix(0.20133,0,0,0.27896,399.709,342.539)">9.7%</div>
<div class="t" style="font-family:'Liberation Sans';font-weight:bold;color:#0d445a;letter-spacing:5.00px;-webkit-text-stroke:1.00px #0d445a;transform:matrix(0.10929,0,0,0.17612,406.932,367.108)">from a</div>
<div class="t" style="font-family:'Liberation Sans';font-weight:bold;color:#0d445a;letter-spacing:5.00px;-webkit-text-stroke:1.00px #0d445a;transform:matrix(0.10670,0,0,0.17661,400.784,380.055)">year ago</div>
<div class="t" style="font-family:'Liberation Sans';font-weight:bold;color:#0d445a;letter-spacing:5.00px;-webkit-text-stroke:1.00px #0d445a;transform:matrix(0.20655,0,0,0.29233,730.074,341.342)">-4.1%</div>
<div class="t" style="font-family:'Liberation Sans';font-weight:bold;color:#0d445a;letter-spacing:5.00px;-webkit-text-stroke:1.00px #0d445a;transform:matrix(0.10784,0,0,0.18043,741.916,367.016)">from a</div>
<div class="t" style="font-family:'Liberation Sans';font-weight:bold;color:#0d445a;letter-spacing:5.00px;-webkit-text-stroke:1.00px #0d445a;transform:matrix(0.10626,0,0,0.17432,735.994,381.258)">year ago</div>
<div class="t" style="font-family:'Liberation Sans';font-weight:normal;color:#d3eaf3;letter-spacing:2.00px;-webkit-text-stroke:6.00px #d3eaf3;transform:matrix(0.10674,0,0,0.11170,810.073,505.915)">POWERED BY FLORIDA REALTORS</div>
</body></html>
